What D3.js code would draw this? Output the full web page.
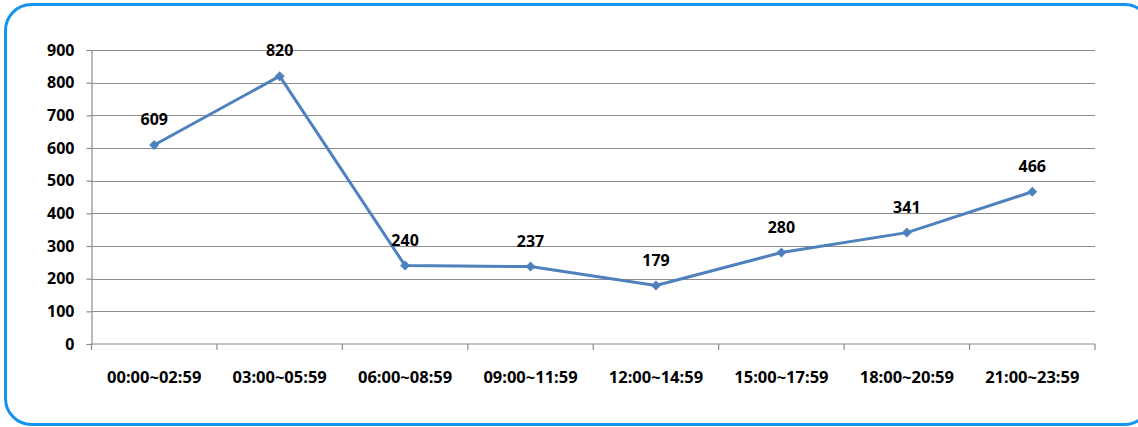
<!DOCTYPE html>
<html>
<head>
<meta charset="utf-8">
<script src="https://cdn.jsdelivr.net/npm/d3@7"></script>
<style>
  html, body { margin: 0; padding: 0; background: #fff; }
  svg { display: block; }
  .axis text { font-family: "Noto Sans", "Liberation Sans", sans-serif; font-weight: bold; fill: #000; }
</style>
</head>
<body>
<svg id="chart" width="1138" height="427"></svg>
<script>
var categories = ["00:00~02:59", "03:00~05:59", "06:00~08:59", "09:00~11:59",
                  "12:00~14:59", "15:00~17:59", "18:00~20:59", "21:00~23:59"];
var counts = [609, 820, 240, 237, 179, 280, 341, 466];
var yTicks = [0, 100, 200, 300, 400, 500, 600, 700, 800, 900];

var svg = d3.select("#chart"),
    margin = {top: 50, right: 43, bottom: 83, left: 91.5},
    width  = +svg.attr("width")  - margin.left - margin.right,
    height = +svg.attr("height") - margin.top  - margin.bottom;

// outer rounded frame
svg.append("rect")
    .attr("x", 5.5).attr("y", 4.5)
    .attr("width", 1145).attr("height", 420)
    .attr("rx", 26).attr("ry", 26)
    .attr("fill", "#fff")
    .attr("stroke", "#1493f0")
    .attr("stroke-width", 3);

var x = d3.scaleBand().domain(categories).range([0, width]),
    y = d3.scaleLinear().domain([0, 900]).range([height, 0]);

var g = svg.append("g")
    .attr("transform", "translate(" + margin.left + "," + margin.top + ")");

// gridlines
g.append("g")
  .selectAll("line")
  .data(yTicks.filter(function(d) { return d > 0; }))
  .join("line")
    .attr("x1", 0).attr("x2", width)
    .attr("y1", function(d) { return Math.round(y(d)) + 0.5; })
    .attr("y2", function(d) { return Math.round(y(d)) + 0.5; })
    .attr("stroke", "#8c8c8c")
    .attr("stroke-width", 1.2);

// y axis
var yAxis = g.append("g")
    .attr("class", "axis axis--y")
    .call(d3.axisLeft(y).tickValues(yTicks).tickSize(5).tickPadding(12));
yAxis.selectAll("line").attr("stroke", "#8c8c8c").attr("stroke-width", 1.2);
yAxis.select(".domain").attr("stroke", "#8c8c8c").attr("stroke-width", 1.2);
yAxis.selectAll("text").style("font-size", "16px");

// x axis, ticks on category boundaries
var xAxis = g.append("g")
    .attr("class", "axis axis--x")
    .attr("transform", "translate(0," + height + ")");
xAxis.append("line")
    .attr("x1", 0).attr("x2", width)
    .attr("stroke", "#8c8c8c").attr("stroke-width", 1.2);
xAxis.selectAll(".bnd")
  .data(categories.concat(["end"]))
  .join("line")
    .attr("class", "bnd")
    .attr("x1", function(d, i) { return i < categories.length ? x(d) : width; })
    .attr("x2", function(d, i) { return i < categories.length ? x(d) : width; })
    .attr("y1", 0).attr("y2", 6)
    .attr("stroke", "#8c8c8c").attr("stroke-width", 1.2);
xAxis.selectAll("text")
  .data(categories)
  .join("text")
    .attr("x", function(d) { return x(d) + x.bandwidth() / 2; })
    .attr("y", 39)
    .attr("text-anchor", "middle")
    .style("font-size", "16.5px")
    .text(function(d) { return d; });

// line
var line = d3.line()
    .x(function(d, i) { return x(categories[i]) + x.bandwidth() / 2; })
    .y(function(d) { return y(d); });

g.append("path")
    .datum(counts)
    .attr("fill", "none")
    .attr("stroke", "#4f81bd")
    .attr("stroke-width", 3)
    .attr("stroke-linejoin", "round")
    .attr("d", line);

// diamond markers (rotated squares)
g.selectAll(".pt")
  .data(counts)
  .join("path")
    .attr("class", "pt")
    .attr("d", d3.symbol(d3.symbolSquare, 50))
    .attr("transform", function(d, i) {
      return "translate(" + (x(categories[i]) + x.bandwidth() / 2) + "," + y(d) + ") rotate(45)";
    })
    .attr("fill", "#4f81bd");

// value labels
g.append("g").attr("class", "axis")
  .selectAll("text")
  .data(counts)
  .join("text")
    .attr("x", function(d, i) { return x(categories[i]) + x.bandwidth() / 2; })
    .attr("y", function(d) { return y(d) - 20; })
    .attr("text-anchor", "middle")
    .style("font-size", "16px")
    .text(function(d) { return d; });
</script>
</body>
</html>
